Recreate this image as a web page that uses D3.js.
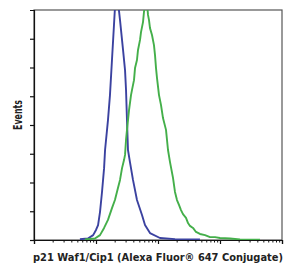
<!DOCTYPE html>
<html>
  <head>
    <meta charset="utf-8">
    <style>
      body { margin: 0; background: #fff; }
      .lbl { font-family: "DejaVu Sans Condensed", sans-serif; font-weight: bold; fill: #222; }
    </style>
    <script src="https://d3js.org/d3.v7.min.js"></script>
  </head>
  <body>
    <svg class="chart"></svg>
    <script>
// isotype control (blue)
var controlIntensity = [5.5, 7.4, 9.0, 10.0, 10.8, 11.6, 12.5, 13.5, 14.0, 15.6, 16.8, 18.1, 19.5, 21.0, 22.6,
  24.4, 27.3, 29.4, 30.5, 31.6, 32.8, 35.3, 39.5, 45.8, 55.2, 61.7, 74.3, 107.7, 188, 475];
var controlCounts = [3, 5, 17, 35, 52, 97, 167, 250, 313, 417, 504, 626, 748, 870, 830,
  765, 661, 591, 522, 417, 313, 271, 209, 139, 87, 52, 24, 7, 3, 2];

// p21 stained (green)
var p21Intensity = [6.6, 9.6, 11.6, 13.5, 15.6, 18.1, 20.2, 22.6, 24.4, 26.3, 28.3, 29.4, 30.5, 31.6, 34.1,
  36.7, 38.1, 41.0, 42.6, 45.8, 47.6, 51.3, 53.2, 57.3, 59.4, 61.7, 64.0, 66.5, 69.0, 71.6,
  74.3, 80.0, 86.1, 89.5, 92.9, 96.4, 103.8, 111.7, 120.4, 134.6, 145.0, 156.2, 174.6, 187.9, 202.4,
  218, 235, 253, 283, 305, 328, 367, 410, 475, 573, 690, 830, 1000, 1450, 2100, 4420];
var p21Counts = [2, 5, 17, 42, 70, 111, 139, 181, 209, 250, 278, 296, 348, 383, 452,
  504, 522, 556, 598, 626, 661, 696, 723, 758, 793, 817, 807, 824, 783, 765,
  737, 713, 678, 643, 598, 563, 504, 470, 424, 383, 313, 271, 216, 167, 139,
  122, 104, 90, 77, 59, 49, 42, 28, 21, 17, 10, 10, 7, 5, 2, 1];

var yTicks = [0, 100, 200, 300, 400, 500, 600, 700];
var xMajors = [1, 10, 100, 1000, 10000];
var xLabel = "p21 Waf1/Cip1 (Alexa Fluor\u00ae 647 Conjugate)";
var yLabel = "Events";

(function() {
var width = 295, height = 267;
var mLeft = 34, mRight = 282, mTop = 10, mBottom = 240;

var x = d3.scaleLog().domain([1, 10000]).range([mLeft, mRight]);
var y = d3.scaleLinear().domain([0, 800]).range([mBottom, mTop]);

var svg = d3.select(".chart").attr("width", width).attr("height", height);

svg.append("clipPath").attr("id", "plot")
  .append("rect").attr("x", mLeft).attr("y", mTop).attr("width", mRight - mLeft).attr("height", mBottom - mTop);

// frame
svg.append("rect")
  .attr("x", mLeft).attr("y", mTop).attr("width", mRight - mLeft).attr("height", mBottom - mTop)
  .attr("fill", "none").attr("stroke", "#555").attr("stroke-width", 1.2);

var line = d3.line().x(function(d) { return x(d[0]); }).y(function(d) { return y(d[1]); });

var series = [
  { xs: controlIntensity, ys: controlCounts, color: "#3b42a0" },
  { xs: p21Intensity, ys: p21Counts, color: "#44af4a" }
];
series.forEach(function(s) {
  svg.append("path")
    .datum(d3.zip(s.xs, s.ys))
    .attr("clip-path", "url(#plot)")
    .attr("fill", "none")
    .attr("stroke", s.color)
    .attr("stroke-width", 1.9)
    .attr("stroke-linejoin", "round")
    .attr("d", line);
});

// y axis (no labels)
var yAxis = d3.axisLeft(y).tickValues(yTicks).tickSize(4).tickFormat("");
svg.append("g").attr("transform", "translate(" + mLeft + ",0)").call(yAxis)
  .call(function(g) { g.selectAll("path, line").attr("stroke", "#111").attr("stroke-width", 1.2); });

// x axis, log decades with minor ticks
var minors = [];
xMajors.slice(0, 4).forEach(function(m) { for (var k = 2; k < 10; k++) minors.push(m * k); });

var xAxis = d3.axisBottom(x).tickValues(xMajors).tickSize(4).tickFormat("");
svg.append("g").attr("transform", "translate(0," + mBottom + ")").call(xAxis)
  .call(function(g) { g.selectAll("path, line").attr("stroke", "#111").attr("stroke-width", 1.2); });
svg.append("g").attr("transform", "translate(0," + mBottom + ")")
  .call(d3.axisBottom(x).tickValues(minors).tickSize(2.5).tickFormat(""))
  .call(function(g) { g.select(".domain").remove(); g.selectAll("line").attr("stroke", "#111"); });

svg.append("text").attr("class", "lbl")
  .attr("x", (mLeft + mRight) / 2).attr("y", 261)
  .attr("text-anchor", "middle").attr("font-size", 10.5)
  .attr("textLength", 250).attr("lengthAdjust", "spacingAndGlyphs")
  .text(xLabel);

svg.append("text").attr("class", "lbl")
  .attr("transform", "translate(21.5,115) rotate(-90)")
  .attr("text-anchor", "middle").attr("font-size", 12)
  .attr("textLength", 30).attr("lengthAdjust", "spacingAndGlyphs")
  .text(yLabel);
})();
    </script>
  </body>
</html>
